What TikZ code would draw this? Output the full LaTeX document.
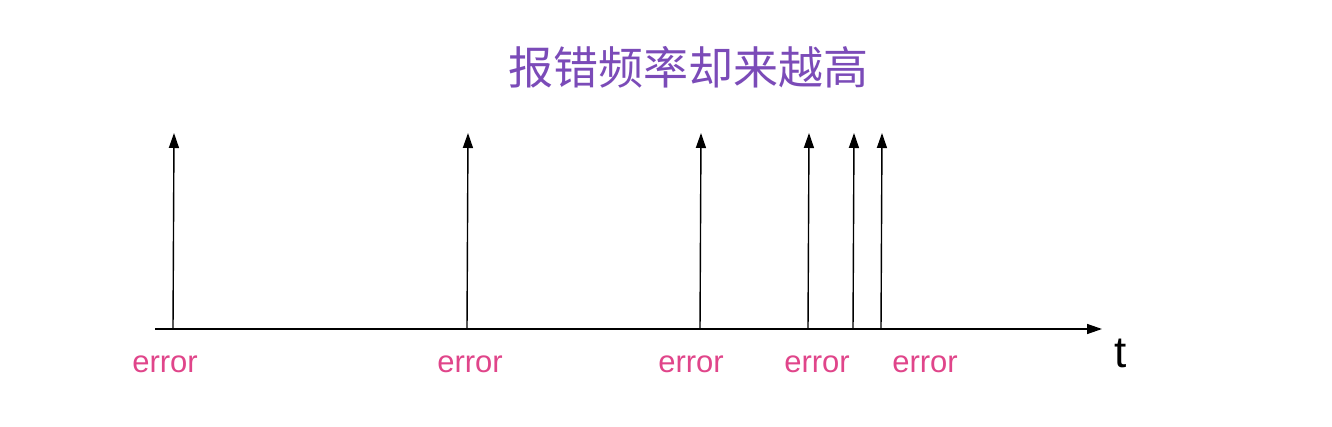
\documentclass[tikz,border=0pt]{standalone}
\usepackage{fontspec}
\setmainfont{Liberation Sans}
\newfontfamily\cjk{Noto Sans CJK SC}
\usetikzlibrary{arrows.meta}
\definecolor{errc}{HTML}{E0458A}
\definecolor{titc}{HTML}{7B4BB8}
\begin{document}
\begin{tikzpicture}[x=1pt,y=1pt,
  arr/.style={line width=1.4pt,-{Triangle[length=15pt,width=10pt]}},
  lbl/.style={text=errc,font=\fontsize{31}{31}\selectfont,inner sep=0pt}]
\useasboundingbox (0,0) rectangle (1332,426);
\node[text=titc,font=\cjk\fontsize{45}{45}\selectfont] (title) at (688,359) {报错频率却来越高};
\coordinate (a0) at (155,97);
\coordinate (a1) at (1102,97);
\draw[arr] (a0) -- (a1);
\node[font=\fontsize{44}{44}\selectfont,inner sep=0pt] (t) at (1121,73) {t};
\foreach \n/\x/\tx in {1/173/174,2/467/468,3/700/701,4/808/809,5/853/854,6/881/882}{
  \coordinate (b\n) at (\x,97);
  \coordinate (e\n) at (\tx,293);
  \draw[arr] (b\n) -- (e\n);
}
\foreach \n/\x in {1/165,2/470,3/691,4/817,5/925}{
  \node[lbl] (l\n) at (\x,62) {error};
}
\end{tikzpicture}
\end{document}
